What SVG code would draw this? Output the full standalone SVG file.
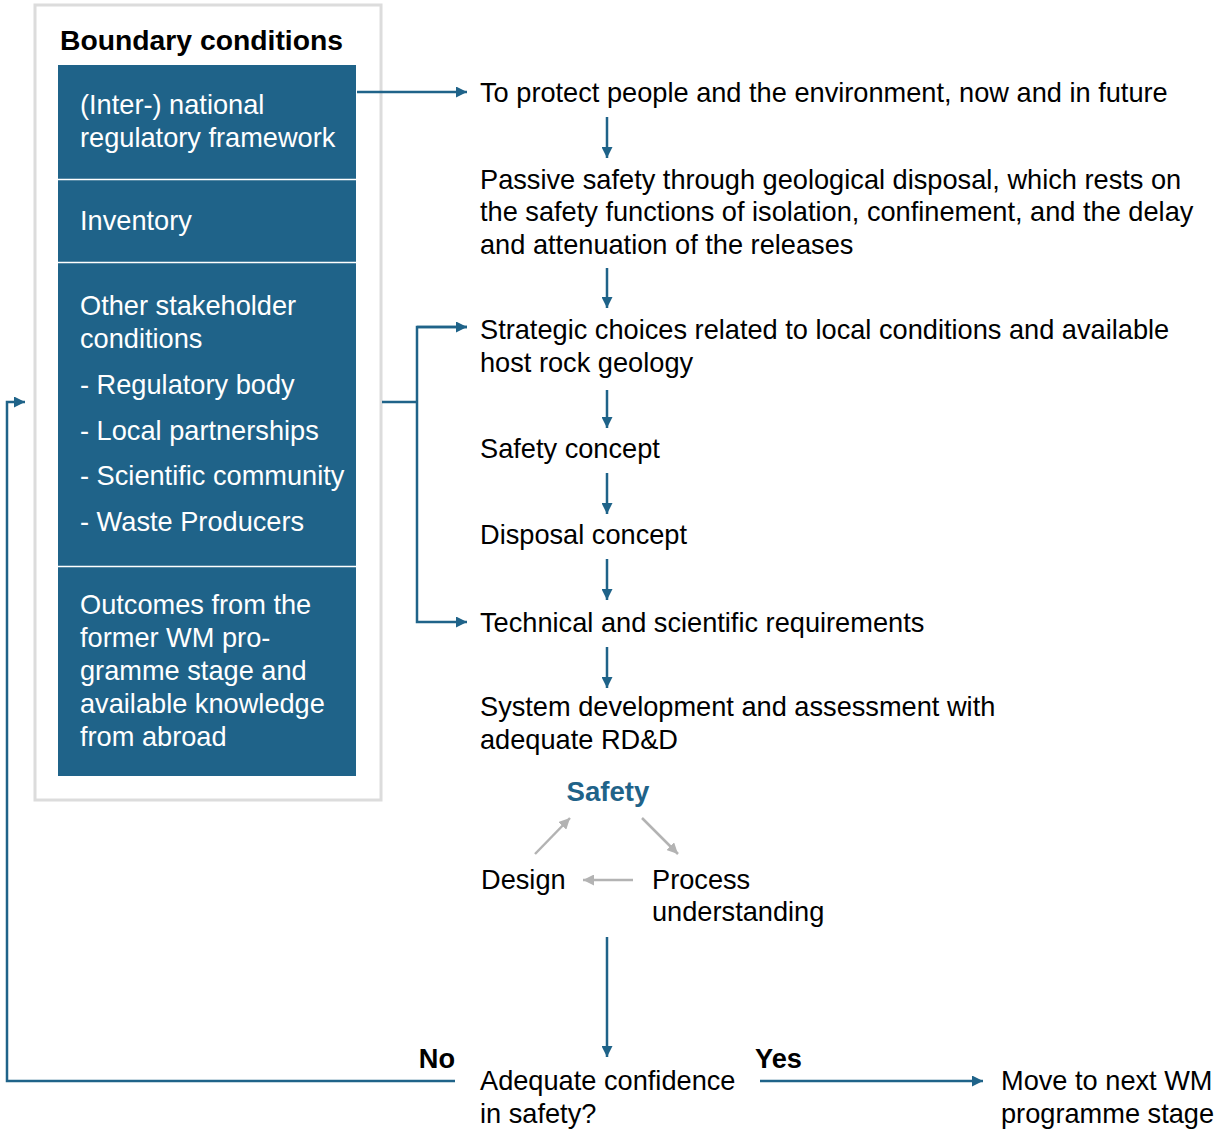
<svg xmlns="http://www.w3.org/2000/svg" width="1224" height="1129" viewBox="0 0 1224 1129">
<style>
text{font-family:"Liberation Sans",Arial,sans-serif;font-size:27.2px;fill:#000}
.w{fill:#fff}
.b{font-weight:bold}
.t{font-weight:bold;font-size:28.3px}
.blue{fill:#1f6389;font-weight:bold;font-size:27.6px}
.c{fill:none;stroke:#1f6389;stroke-width:2.5}
.g{fill:none;stroke:#b3b3b3;stroke-width:2.5}
</style>
<defs>
<marker id="ab" viewBox="0 0 10 10" refX="10" refY="5" markerWidth="4.4" markerHeight="4.4" markerUnits="strokeWidth" orient="auto"><path d="M0,0L10,5L0,10z" fill="#1f6389"/></marker>
<marker id="ag" viewBox="0 0 10 10" refX="10" refY="5" markerWidth="4.4" markerHeight="4.4" markerUnits="strokeWidth" orient="auto"><path d="M0,0L10,5L0,10z" fill="#b3b3b3"/></marker>
</defs>
<g id="boundary">
<rect x="35" y="5" width="346" height="795" fill="#fff" stroke="#dcdcdc" stroke-width="3"/>
<text class="t" x="60" y="50">Boundary conditions</text>
<rect x="58" y="65" width="298" height="711" fill="#1f6389"/>
<line x1="58" y1="179.5" x2="356" y2="179.5" stroke="#fff" stroke-width="1.5"/>
<line x1="58" y1="262.5" x2="356" y2="262.5" stroke="#fff" stroke-width="1.5"/>
<line x1="58" y1="566.5" x2="356" y2="566.5" stroke="#fff" stroke-width="1.5"/>
<text class="w" x="80" y="114">(Inter-) national</text>
<text class="w" x="80" y="147">regulatory framework</text>
<text class="w" x="80" y="230">Inventory</text>
<text class="w" x="80" y="315">Other stakeholder</text>
<text class="w" x="80" y="348">conditions</text>
<text class="w" x="80" y="394">- Regulatory body</text>
<text class="w" x="80" y="440">- Local partnerships</text>
<text class="w" x="80" y="485">- Scientific community</text>
<text class="w" x="80" y="531">- Waste Producers</text>
<text class="w" x="80" y="614">Outcomes from the</text>
<text class="w" x="80" y="647">former WM pro-</text>
<text class="w" x="80" y="680">gramme stage and</text>
<text class="w" x="80" y="713">available knowledge</text>
<text class="w" x="80" y="746">from abroad</text>
</g>
<g id="protect"><text x="480" y="102">To protect people and the environment, now and in future</text></g>
<g id="passive"><text x="480" y="189">Passive safety through geological disposal, which rests on</text><text x="480" y="221">the safety functions of isolation, confinement, and the delay</text><text x="480" y="254">and attenuation of the releases</text></g>
<g id="strategic"><text x="480" y="339">Strategic choices related to local conditions and available</text><text x="480" y="372">host rock geology</text></g>
<g id="safetyconcept"><text x="480" y="458">Safety concept</text></g>
<g id="disposal"><text x="480" y="544">Disposal concept</text></g>
<g id="technical"><text x="480" y="632">Technical and scientific requirements</text></g>
<g id="system"><text x="480" y="716">System development and assessment with</text><text x="480" y="749">adequate RD&amp;D</text></g>
<g id="safety"><text class="blue" x="608" y="801" text-anchor="middle">Safety</text></g>
<g id="design"><text x="481" y="889">Design</text></g>
<g id="process"><text x="652" y="889">Process</text><text x="652" y="921">understanding</text></g>
<g id="confidence"><text x="480" y="1090">Adequate confidence</text><text x="480" y="1123">in safety?</text></g>
<g id="next"><text x="1001" y="1090">Move to next WM</text><text x="1001" y="1123">programme stage</text></g>
<g id="connectors">
<line class="c" x1="357" y1="92" x2="467" y2="92" marker-end="url(#ab)"/>
<line class="c" x1="607" y1="117" x2="607" y2="158" marker-end="url(#ab)"/>
<line class="c" x1="607" y1="268" x2="607" y2="308" marker-end="url(#ab)"/>
<line class="c" x1="607" y1="390" x2="607" y2="428" marker-end="url(#ab)"/>
<line class="c" x1="607" y1="473" x2="607" y2="514" marker-end="url(#ab)"/>
<line class="c" x1="607" y1="559" x2="607" y2="600" marker-end="url(#ab)"/>
<line class="c" x1="607" y1="647" x2="607" y2="688" marker-end="url(#ab)"/>
<line class="c" x1="382" y1="402" x2="417" y2="402"/>
<polyline class="c" points="467,327 417,327 417,622 467,622" marker-end="url(#ab)"/>
<line class="c" x1="417" y1="327" x2="467" y2="327" marker-end="url(#ab)"/>
<line class="g" x1="535" y1="854" x2="570" y2="818" marker-end="url(#ag)"/>
<line class="g" x1="642" y1="818" x2="678" y2="854" marker-end="url(#ag)"/>
<line class="g" x1="633" y1="880" x2="583" y2="880" marker-end="url(#ag)"/>
<line class="c" x1="607" y1="937" x2="607" y2="1057" marker-end="url(#ab)"/>
<polyline class="c" points="455,1081 7,1081 7,402 25,402" marker-end="url(#ab)"/>
<line class="c" x1="760" y1="1081" x2="983" y2="1081" marker-end="url(#ab)"/>
<text class="b" x="455" y="1068" text-anchor="end">No</text>
<text class="b" x="755" y="1068">Yes</text>
</g>
</svg>
